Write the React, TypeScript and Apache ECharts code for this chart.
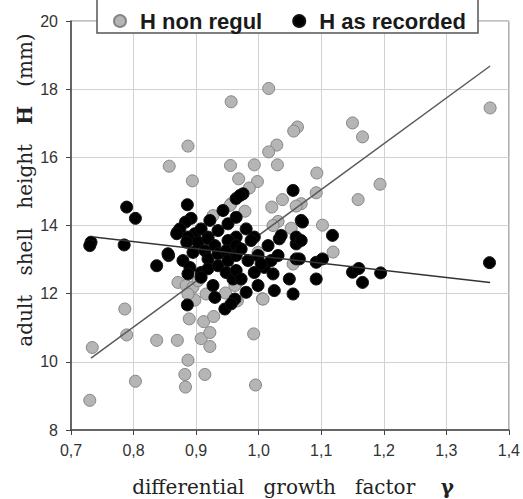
import React, { useEffect, useRef } from "react";
import * as echarts from "echarts";

const xTicks = [0.7, 0.8, 0.9, 1.0, 1.1, 1.2, 1.3, 1.4];
const yTicks = [8, 10, 12, 14, 16, 18, 20];

const seriesNames = ["H non regul", "H as recorded"];

const grayPoints: number[][] = [
  [0.730, 8.87], [0.734, 10.42], [0.786, 11.55], [0.789, 10.79], [0.803, 9.43],
  [0.837, 10.63], [0.870, 10.63], [0.887, 10.05], [0.882, 9.63], [0.883, 9.26],
  [0.914, 9.63], [0.871, 12.33], [0.884, 12.24], [0.889, 11.26], [0.908, 10.68],
  [0.912, 11.18], [0.922, 10.86], [0.922, 10.45], [0.928, 11.33], [0.992, 10.82],
  [0.995, 9.32], [1.006, 11.85], [0.947, 12.02], [0.964, 12.29], [0.966, 11.79],
  [0.895, 12.19], [0.898, 11.81], [0.887, 11.99], [0.916, 11.99], [0.903, 12.38],
  [0.962, 12.24], [1.119, 13.22], [1.370, 17.45], [1.016, 18.02], [0.956, 17.63],
  [1.150, 17.01], [1.166, 16.60], [1.062, 16.89], [1.056, 16.77], [1.029, 16.36],
  [1.016, 16.16], [0.993, 15.78], [1.030, 15.78], [1.093, 15.54], [1.194, 15.21],
  [1.159, 14.76], [1.092, 14.96], [0.955, 15.76], [0.968, 15.37], [0.998, 15.29],
  [0.985, 15.10], [1.038, 14.76], [1.021, 14.54], [1.068, 14.64], [1.060, 14.57],
  [0.978, 14.42], [1.031, 14.12], [1.023, 14.00], [1.052, 13.92], [1.102, 14.01],
  [0.887, 16.33], [0.857, 15.74], [0.894, 15.31], [0.956, 14.64], [0.927, 14.29],
  [0.954, 14.59], [1.055, 12.87], [0.999, 13.21], [1.007, 11.84],
];

const blackPoints: number[][] = [
  [0.732, 13.51], [0.730, 13.41], [0.785, 13.43], [0.789, 14.54], [0.803, 14.21],
  [0.837, 12.82], [0.856, 13.12], [0.870, 13.80], [0.886, 14.61], [0.892, 14.21],
  [0.883, 14.10], [0.874, 13.90], [0.869, 13.76], [0.898, 13.76], [0.908, 13.90],
  [0.922, 14.15], [0.943, 14.44], [0.964, 14.79], [0.975, 14.93], [0.970, 14.88],
  [0.887, 13.66], [0.919, 13.66], [0.935, 13.85], [0.951, 14.05], [0.964, 14.24],
  [0.980, 13.90], [0.993, 13.66], [0.964, 13.66], [0.956, 13.51], [0.855, 13.17],
  [0.879, 12.97], [0.885, 13.51], [0.895, 13.21], [0.903, 13.51], [0.919, 13.61],
  [0.914, 13.26], [0.930, 13.41], [0.951, 13.56], [0.919, 13.02], [0.935, 13.17],
  [0.948, 13.26], [0.964, 13.41], [0.890, 12.77], [0.887, 12.58], [0.908, 12.62],
  [0.919, 12.73], [0.935, 12.82], [0.951, 12.97], [0.964, 13.12], [0.927, 12.24],
  [0.930, 11.89], [0.948, 12.62], [0.959, 12.43], [0.964, 12.68], [0.962, 11.84],
  [0.886, 11.67], [0.946, 11.55], [0.956, 11.70], [0.908, 12.48], [0.972, 13.31],
  [0.988, 13.56], [0.983, 12.97], [0.999, 13.12], [1.015, 13.41], [1.033, 13.61],
  [1.060, 13.46], [1.009, 12.77], [1.020, 12.97], [1.031, 13.12], [1.060, 13.02],
  [0.972, 12.43], [0.999, 12.24], [1.023, 12.58], [1.049, 12.43], [1.025, 12.09],
  [1.055, 11.99], [0.980, 12.04], [1.036, 13.71], [1.060, 13.66], [1.055, 15.03],
  [1.068, 14.15], [1.070, 14.10], [1.118, 13.71], [1.068, 13.56], [1.065, 13.02],
  [1.092, 12.92], [1.102, 13.02], [1.092, 12.43], [1.150, 12.63], [1.160, 12.74],
  [1.166, 12.33], [1.195, 12.61], [1.369, 12.91], [0.993, 12.62], [1.004, 12.87],
];

const grayTrend: number[][] = [[0.732, 10.11], [1.370, 18.68]];
const blackTrend: number[][] = [[0.736, 13.66], [1.370, 12.33]];

export default function App() {
  const ref = useRef<HTMLDivElement>(null);
  useEffect(() => {
    if (!ref.current) return;
    const chart = echarts.init(ref.current, null, { renderer: "svg" });
    const serif = "'DejaVu Serif', serif";
    chart.setOption({
      animation: false,
      backgroundColor: "#ffffff",
      grid: {
        left: 71,
        right: 13,
        top: 21,
        bottom: 69,
        show: true,
        borderColor: "#808080",
        borderWidth: 1,
      },
      legend: {
        data: seriesNames,
        left: 113,
        top: 10,
        padding: 0,
        z: 10,
        icon: "circle",
        itemWidth: 12,
        itemHeight: 12,
        itemGap: 30,
        textStyle: {
          fontFamily: "'Liberation Sans', Arial, sans-serif",
          fontWeight: "bold",
          fontSize: 22,
          color: "#1a1a1a",
          padding: [0, 0, 0, 9],
        },
      },
      graphic: [
        {
          type: "rect",
          z: 8,
          shape: { x: 97, y: -5, width: 381, height: 38 },
          style: { fill: "#ffffff", stroke: "#555555", lineWidth: 1.5 },
        },
        {
          type: "text",
          z: 8,
          x: 293,
          y: 487,
          style: {
            text: "differential   growth   factor    {b|γ}",
            font: `20px ${serif}`,
            fill: "#222222",
            align: "center",
            verticalAlign: "middle",
            rich: {
              b: { fontFamily: serif, fontSize: 20, fontWeight: "bold", fill: "#222222" },
            },
          },
        },
        {
          type: "text",
          z: 8,
          x: 25,
          y: 190,
          rotation: Math.PI / 2,
          style: {
            text: "adult   shell   height   {b|H}   (mm)",
            font: `20px ${serif}`,
            fill: "#222222",
            align: "center",
            verticalAlign: "middle",
            rich: {
              b: { fontFamily: serif, fontSize: 20, fontWeight: "bold", fill: "#222222" },
            },
          },
        },
      ],
      xAxis: {
        type: "value",
        min: xTicks[0],
        max: xTicks[xTicks.length - 1],
        interval: 0.1,
        axisLine: { show: true, lineStyle: { color: "#444444", width: 1.5 } },
        axisTick: { show: true, length: 5, lineStyle: { color: "#444444" } },
        axisLabel: {
          margin: 12,
          fontSize: 16,
          color: "#333333",
          fontFamily: "'Liberation Sans', Arial, sans-serif",
          formatter: (v: number) => v.toFixed(1).replace(".", ","),
        },
        splitLine: { show: true, lineStyle: { color: "#d2d2d2", width: 1 } },
      },
      yAxis: {
        type: "value",
        min: yTicks[0],
        max: yTicks[yTicks.length - 1],
        interval: 2,
        axisLine: { show: true, lineStyle: { color: "#444444", width: 1.5 } },
        axisTick: { show: true, length: 5, lineStyle: { color: "#444444" } },
        axisLabel: {
          margin: 13,
          fontSize: 16,
          color: "#333333",
          fontFamily: "'Liberation Sans', Arial, sans-serif",
        },
        splitLine: { show: true, lineStyle: { color: "#d2d2d2", width: 1 } },
      },
      series: [
        {
          name: seriesNames[0],
          type: "scatter",
          data: grayPoints,
          symbolSize: 12,
          itemStyle: { color: "#b5b5b5", borderColor: "#858585", borderWidth: 1, opacity: 1 },
          z: 2,
        },
        {
          name: "gray trend",
          type: "line",
          data: grayTrend,
          symbol: "none",
          lineStyle: { color: "#5a5a5a", width: 1.5 },
          z: 3,
        },
        {
          name: seriesNames[1],
          type: "scatter",
          data: blackPoints,
          symbolSize: 12,
          itemStyle: { color: "#000000", borderColor: "#111111", borderWidth: 1, opacity: 1 },
          z: 4,
        },
        {
          name: "black trend",
          type: "line",
          data: blackTrend,
          symbol: "none",
          lineStyle: { color: "#333333", width: 1.5 },
          z: 5,
        },
      ],
    });
    return () => chart.dispose();
  }, []);
  return (
    <div
      ref={ref}
      style={{ position: "fixed", left: 0, top: 0, width: 523, height: 499 }}
    />
  );
}
